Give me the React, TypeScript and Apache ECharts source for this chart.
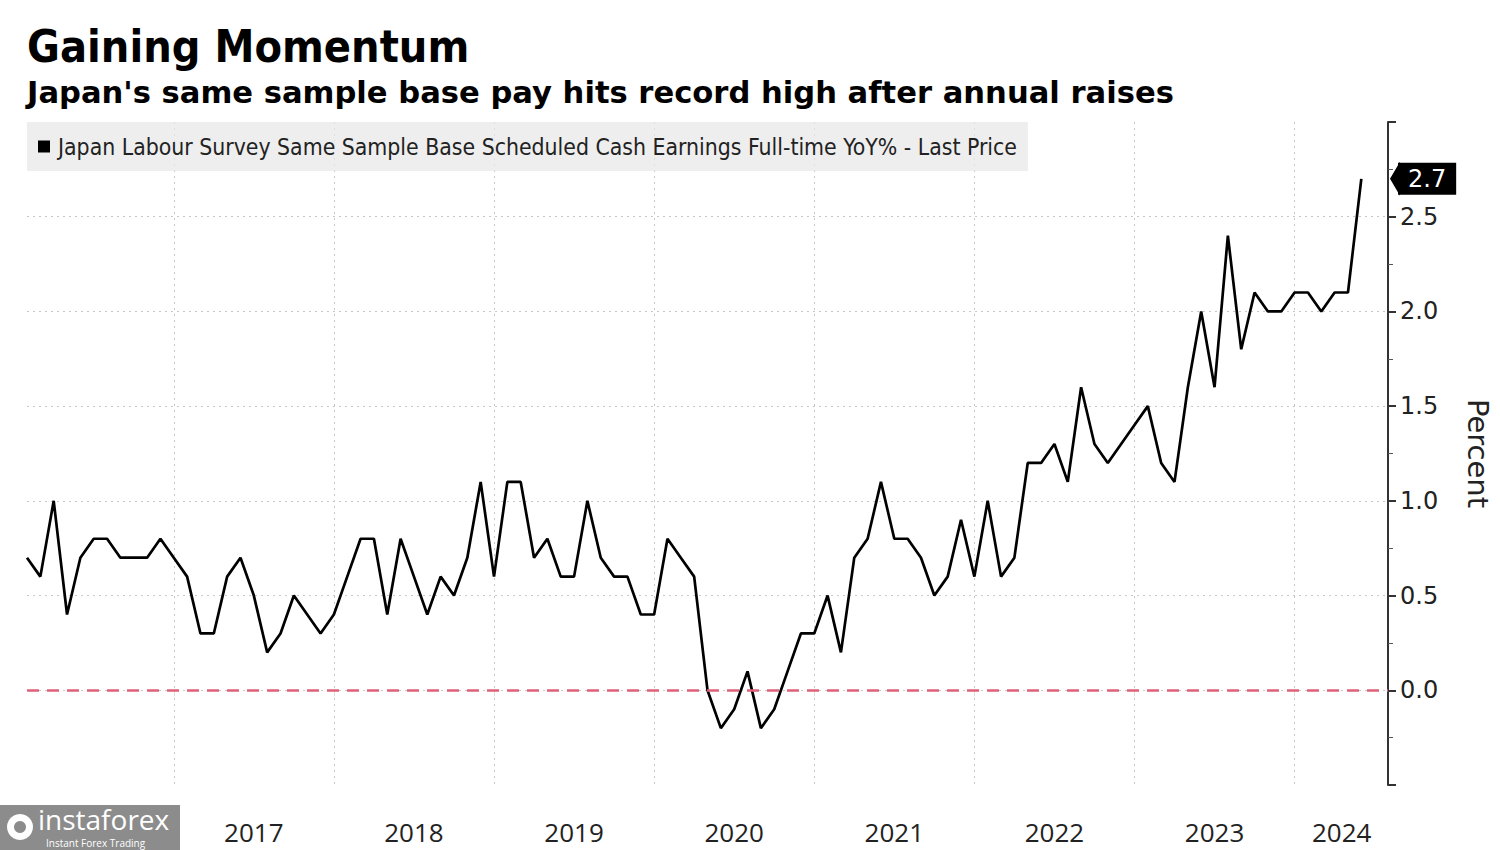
import React, { useEffect, useRef } from "react";
import * as echarts from "echarts";

const titleText = "Gaining Momentum";
const subtitleText = "Japan's same sample base pay hits record high after annual raises";
const seriesName =
  "Japan Labour Survey Same Sample Base Scheduled Cash Earnings Full-time YoY% - Last Price";

const startYear = 2016;
const startMonth = 2; // February 2016
const padMonths = 2;

const y2016 = [0.7, 0.6, 1.0, 0.4, 0.7, 0.8, 0.8, 0.7, 0.7, 0.7, 0.8];
const y2017 = [0.7, 0.6, 0.3, 0.3, 0.6, 0.7, 0.5, 0.2, 0.3, 0.5, 0.4, 0.3];
const y2018 = [0.4, 0.6, 0.8, 0.8, 0.4, 0.8, 0.6, 0.4, 0.6, 0.5, 0.7, 1.1];
const y2019 = [0.6, 1.1, 1.1, 0.7, 0.8, 0.6, 0.6, 1.0, 0.7, 0.6, 0.6, 0.4];
const y2020 = [0.4, 0.8, 0.7, 0.6, 0.0, -0.2, -0.1, 0.1, -0.2, -0.1, 0.1, 0.3];
const y2021 = [0.3, 0.5, 0.2, 0.7, 0.8, 1.1, 0.8, 0.8, 0.7, 0.5, 0.6, 0.9];
const y2022 = [0.6, 1.0, 0.6, 0.7, 1.2, 1.2, 1.3, 1.1, 1.6, 1.3, 1.2, 1.3];
const y2023 = [1.4, 1.5, 1.2, 1.1, 1.6, 2.0, 1.6, 2.4, 1.8, 2.1, 2.0, 2.0];
const y2024 = [2.1, 2.1, 2.0, 2.1, 2.1, 2.7];

const values: (number | null)[] = [
  ...y2016, ...y2017, ...y2018, ...y2019, ...y2020, ...y2021, ...y2022, ...y2023, ...y2024,
];
const lastValue = y2024[y2024.length - 1];

const months: string[] = [];
for (let i = 0; i < values.length + padMonths; i++) {
  const m = startMonth - 1 + i;
  months.push(`${startYear + Math.floor(m / 12)}-${String((m % 12) + 1).padStart(2, "0")}`);
}
const seriesData = [...values, ...new Array(padMonths).fill(null)];

const yTicks = [0.0, 0.5, 1.0, 1.5, 2.0, 2.5];
const yearLabels = ["2017", "2018", "2019", "2020", "2021", "2022", "2023", "2024"];
const lastYearLabelMonth = "2024-04";

const HEAD_FONT = "'DejaVu Sans', Verdana, sans-serif";
const COND_FONT = "'DejaVu Sans Condensed', 'Liberation Sans Narrow', 'Open Sans', sans-serif";
const YEAR_FONT = "'Open Sans', sans-serif";

const isYearLabel = (val: string) => {
  const y = val.slice(0, 4);
  if (!yearLabels.includes(y)) return false;
  if (y === "2024") return val === lastYearLabelMonth;
  return val.endsWith("-07");
};

export default function App() {
  const ref = useRef<HTMLDivElement>(null);
  useEffect(() => {
    if (!ref.current) return;
    const chart = echarts.init(ref.current, null, { renderer: "svg" });
    const gridColor = "#c8c8c8";
    chart.setOption({
      animation: false,
      backgroundColor: "#ffffff",
      grid: { left: 27, right: 107, top: 122, bottom: 65, containLabel: false },
      legend: {
        show: true,
        left: 27,
        top: 122,
        padding: [13, 11, 13, 11],
        backgroundColor: "rgba(232,232,232,0.75)",
        itemWidth: 12,
        itemHeight: 12,
        itemGap: 8,
        icon: "rect",
        textStyle: { fontSize: 22.8, fontFamily: COND_FONT, color: "#222", padding: [0, 0, 0, 3] },
        data: [{ name: seriesName, itemStyle: { color: "#000" } }],
      },
      graphic: [
        {
          type: "text",
          x: 27,
          y: 47,
          scaleX: 0.913,
          style: {
            text: titleText,
            font: `bold 44px ${HEAD_FONT}`,
            fill: "#000",
            textVerticalAlign: "middle",
          },
        },
        {
          type: "text",
          x: 27,
          y: 93,
          scaleX: 1.02,
          style: {
            text: subtitleText,
            font: `bold 30px ${HEAD_FONT}`,
            fill: "#000",
            textVerticalAlign: "middle",
          },
        },
        {
          type: "group",
          left: 0,
          top: 805,
          children: [
            { type: "rect", shape: { x: 0, y: 0, width: 180, height: 45 }, style: { fill: "#8c8c8c" } },
            {
              type: "text",
              x: 38,
              y: 0,
              style: { text: "instaforex", font: `28px 'Open Sans', sans-serif`, fill: "#fff" },
            },
            {
              type: "text",
              x: 46,
              y: 33,
              style: { text: "Instant Forex Trading", font: `10px 'Open Sans', sans-serif`, fill: "#fff" },
            },
            { type: "circle", shape: { cx: 20, cy: 22, r: 13 }, style: { fill: "#fff" } },
            { type: "circle", shape: { cx: 20, cy: 22, r: 6 }, style: { fill: "#8c8c8c" } },
          ],
        },
      ],
      xAxis: {
        type: "category",
        data: months,
        boundaryGap: false,
        axisLine: { show: false },
        axisTick: {
          show: true,
          interval: (_i: number, val: string) => val.endsWith("-01"),
          length: 6,
          lineStyle: { color: "#ddd" },
        },
        axisLabel: {
          show: true,
          interval: (_i: number, val: string) => isYearLabel(val),
          formatter: (val: string) => {
            if (!isYearLabel(val)) return "";
            if (val === lastYearLabelMonth) return `{r|${val.slice(0, 4)}}`;
            return val.slice(0, 4);
          },
          fontSize: 26,
          fontFamily: YEAR_FONT,
          color: "#222",
          margin: 34,
          rich: {
            r: { fontSize: 26, fontFamily: YEAR_FONT, color: "#222", padding: [0, 0, 0, 14] },
          },
        },
        splitLine: {
          show: true,
          interval: (_i: number, val: string) => val.endsWith("-01"),
          lineStyle: { color: gridColor, type: [2, 4], width: 1 },
        },
      },
      yAxis: {
        type: "value",
        position: "right",
        min: -0.5,
        max: 3.0,
        interval: 0.5,
        axisLine: { show: true, lineStyle: { color: "#333", width: 2 } },
        axisTick: { show: true, length: 8, lineStyle: { color: "#333", width: 2 } },
        minorTick: { show: true, splitNumber: 2, length: 5, lineStyle: { color: "#555", width: 1 } },
        axisLabel: {
          fontSize: 24,
          fontFamily: HEAD_FONT,
          color: "#222",
          margin: 12,
          formatter: (v: number) => (yTicks.some((t) => Math.abs(t - v) < 1e-9) ? v.toFixed(1) : ""),
        },
        splitLine: {
          show: true,
          lineStyle: {
            color: ["rgba(0,0,0,0)", gridColor, gridColor, gridColor, gridColor, gridColor, gridColor, "rgba(0,0,0,0)"],
            type: [2, 4],
            width: 1,
          },
        },
        name: "Percent",
        nameLocation: "middle",
        nameRotate: -90,
        nameGap: 75,
        nameTextStyle: { fontSize: 29, fontFamily: HEAD_FONT, color: "#222" },
        axisPointer: {
          show: true,
          value: lastValue,
          status: "show",
          snap: false,
          triggerTooltip: false,
          lineStyle: { opacity: 0 },
          label: {
            show: true,
            formatter: (p: any) => Number(p.value).toFixed(1),
            backgroundColor: "#000",
            color: "#fff",
            fontSize: 24,
            fontFamily: HEAD_FONT,
            padding: [4, 10, 4, 10],
            margin: 10,
            borderRadius: 0,
          },
        },
      },
      axisPointer: { triggerOn: "none" },
      series: [
        {
          name: seriesName,
          type: "line",
          data: seriesData,
          symbol: "none",
          connectNulls: false,
          lineStyle: { color: "#000", width: 2.7 },
          itemStyle: { color: "#000" },
          markLine: {
            silent: true,
            symbol: "none",
            label: { show: false },
            lineStyle: { color: "#e0607a", type: [12, 8], width: 2.5 },
            data: [{ yAxis: 0 }],
          },
          z: 3,
        },
      ],
    });
    // arrow pointer of the last-value tag
    const yPix = chart.convertToPixel({ yAxisIndex: 0 }, lastValue) as number;
    const xPix = chart.convertToPixel({ xAxisIndex: 0 }, months[months.length - 1]) as number;
    chart.setOption({
      graphic: [
        {
          id: "tagArrow",
          type: "polygon",
          shape: {
            points: [
              [xPix + 2, yPix],
              [xPix + 12, yPix - 17],
              [xPix + 12, yPix + 17],
            ],
          },
          style: { fill: "#000" },
          z: 100,
        },
      ],
    });
    return () => chart.dispose();
  }, []);
  return (
    <div
      ref={ref}
      style={{ position: "fixed", left: 0, top: 0, width: 1500, height: 850, background: "#fff" }}
    />
  );
}
